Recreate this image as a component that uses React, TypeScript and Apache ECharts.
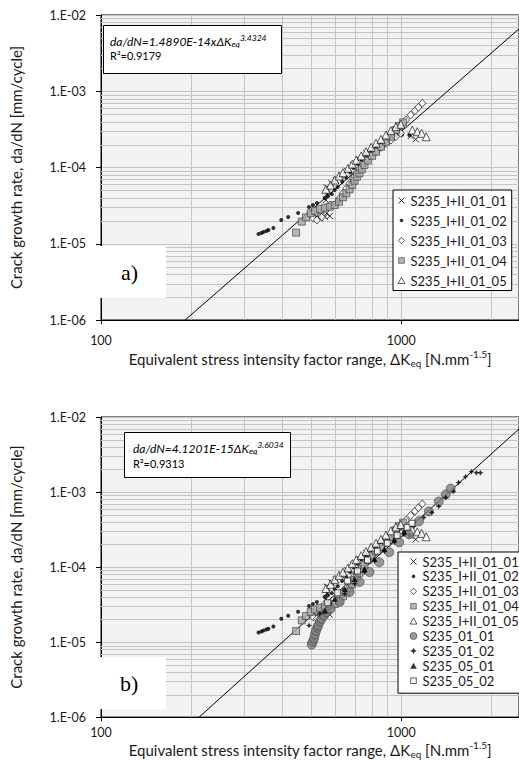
import React, { useEffect, useRef } from "react";
import * as echarts from "echarts";

const FONT = 'Lato, "Open Sans", "Noto Sans", sans-serif';
const GRID_COLOR = "#c4c4c4";
const TXT = "#1a1a1a";

const namesA = [
  "S235_I+II_01_01",
  "S235_I+II_01_02",
  "S235_I+II_01_03",
  "S235_I+II_01_04",
  "S235_I+II_01_05",
];
const namesB = [...namesA, "S235_01_01", "S235_01_02", "S235_05_01", "S235_05_02"];

const xTicks = [100, 1000];
const xTickLabels = ["100", "1000"];
const yTicks = [1e-6, 1e-5, 1e-4, 1e-3, 1e-2];
const yTickLabels = ["1.E-06", "1.E-05", "1.E-04", "1.E-03", "1.E-02"];
const X_MIN = 100;
const X_MAX = 2470;
const Y_MIN = 1e-6;
const Y_MAX = 1e-2;
const xMinor = [200, 300, 400, 500, 600, 700, 800, 900, 2000];
const minorMant = [2, 3, 4, 5, 6, 7, 8, 9];
const minorDecades = [1e-6, 1e-5, 1e-4, 1e-3];

// fitted laws (shown in the boxes)
const fitA = { C: 1.489e-14, m: 3.4324 };
const fitB = { C: 4.1201e-15, m: 3.6034 };
const fitX = [150, 2600];

// ---- data: S235_I+II specimens (both charts) ----
const d_I01: [number, number][] = [
  [523.0, 2.26e-5], [536.3, 2.16e-5], [543.3, 2.38e-5], [557.1, 2.26e-5], [564.5, 2.51e-5],
  [578.7, 2.31e-5], [561.4, 3.75e-5], [565.6, 4.49e-5], [564.5, 5.5e-5], [586.1, 6.21e-5],
  [605.5, 6.86e-5], [632.4, 7.74e-5], [659.9, 9.08e-5], [690.7, 1.08e-4], [726.8, 1.28e-4],
  [764.8, 1.54e-4], [804.3, 1.73e-4], [846.1, 1.97e-4], [890.2, 2.25e-4], [936.1, 2.53e-4],
  [984.9, 2.95e-4], [1076.4, 2.59e-4], [1118.3, 2.34e-4],
];
const d_I02: [number, number][] = [
  [334.8, 1.34e-5], [342.5, 1.38e-5], [347.8, 1.43e-5], [355.8, 1.47e-5], [361.3, 1.51e-5],
  [375.3, 1.61e-5], [398.7, 2.05e-5], [420.5, 2.24e-5], [453.7, 2.53e-5], [493.2, 3.03e-5],
  [508.4, 3.22e-5], [524.2, 3.42e-5], [557.1, 3.98e-5], [569.9, 4.23e-5], [587.5, 4.49e-5],
  [601.0, 5.07e-5], [614.9, 5.55e-5], [636.0, 6.5e-5], [657.0, 7.4e-5], [677.0, 8.6e-5],
  [694.4, 9.85e-5], [715.9, 1.11e-4], [738.0, 1.25e-4], [764.8, 1.43e-4], [794.3, 1.64e-4],
  [825.1, 1.87e-4], [857.0, 2.03e-4], [890.2, 2.18e-4], [924.7, 2.35e-4], [960.5, 2.55e-4],
  [1007.0, 2.69e-4], [1065.0, 2.67e-4],
];
const d_I03: [number, number][] = [
  [509.7, 2.16e-5], [524.2, 2.05e-5], [544.5, 2.24e-5], [578.7, 3.22e-5], [608.8, 3.39e-5],
  [624.3, 3.95e-5], [640.2, 4.59e-5], [657.0, 5.34e-5], [673.6, 6.21e-5], [690.7, 7.22e-5],
  [709.0, 8.39e-5], [726.8, 9.47e-5], [745.3, 1.08e-4], [764.8, 1.23e-4], [794.3, 1.42e-4],
  [825.1, 1.61e-4], [857.0, 1.84e-4], [890.2, 2.08e-4], [924.7, 2.29e-4], [960.5, 2.53e-4],
  [997.7, 2.81e-4], [984.9, 3.43e-4], [1015.3, 3.8e-4], [1038, 4.2e-4], [1076, 4.88e-4],
  [1112, 5.56e-4], [1141, 6.16e-4], [1176, 6.95e-4],
];
const d_I04: [number, number][] = [
  [446.8, 1.4e-5], [466.6, 1.95e-5], [482.1, 2.22e-5], [499.6, 2.51e-5], [516.3, 2.71e-5],
  [536.3, 2.85e-5], [557.1, 2.97e-5], [578.7, 3.06e-5], [601.0, 3.22e-5], [621.0, 3.56e-5],
  [640.2, 4.07e-5], [657.0, 4.59e-5], [673.6, 5.18e-5], [687.8, 5.89e-5], [699.7, 6.71e-5],
  [712.2, 7.57e-5], [726.8, 8.39e-5], [739.7, 9.47e-5], [755.0, 1.08e-4], [774.3, 1.23e-4],
  [800.6, 1.42e-4], [825.1, 1.61e-4], [857.0, 1.87e-4], [890.2, 2.18e-4], [924.7, 2.53e-4],
  [960.5, 3.1e-4], [984.9, 3.5e-4], [1015.3, 3.91e-4],
];
const d_I05: [number, number][] = [
  [561.4, 5.18e-5], [581.8, 5.89e-5], [601.0, 6.86e-5], [621.0, 7.74e-5], [640.2, 8.55e-5],
  [664.9, 9.76e-5], [687.8, 1.11e-4], [709.0, 1.25e-4], [736.3, 1.42e-4], [764.8, 1.61e-4],
  [794.3, 1.84e-4], [825.1, 2.08e-4], [857.0, 2.34e-4], [890.2, 2.67e-4], [924.7, 3.04e-4],
  [960.5, 3.43e-4], [997.7, 3.69e-4], [1089.7, 3.1e-4], [1131.9, 2.95e-4], [1170.4, 2.81e-4],
  [1212.1, 2.53e-4],
];

// ---- data: additional specimens (chart b) ----
const d_S0101: [number, number][] = [
  [503.5, 9.27e-6], [507.4, 1.01e-5], [512.4, 1.11e-5], [516.3, 1.26e-5], [520.3, 1.41e-5],
  [525.4, 1.56e-5], [529.4, 1.67e-5], [536.3, 1.88e-5], [543.3, 2.05e-5], [552.9, 2.27e-5],
  [564.3, 2.51e-5], [581.8, 2.78e-5], [624.3, 3.44e-5], [673.6, 4.67e-5], [726.8, 6.33e-5],
  [784.3, 8.59e-5], [846.1, 1.16e-4], [912.9, 1.58e-4], [984.9, 2.14e-4], [1062.6, 2.74e-4],
  [1146.5, 4.07e-4], [1237.3, 5.52e-4], [1335, 7.48e-4], [1407.7, 9.27e-4], [1462, 1.11e-3],
];
const d_S0102: [number, number][] = [
  [493.2, 1.66e-5], [536.3, 2.38e-5], [578.7, 3.24e-5], [648.5, 4.39e-5], [699.7, 5.96e-5],
  [755.0, 8.59e-5], [814.6, 1.2e-4], [878.9, 1.63e-4], [948.2, 2.14e-4], [1023.1, 2.74e-4],
  [1103.8, 3.49e-4], [1190.9, 4.59e-4], [1266, 5.35e-4], [1335, 6.43e-4], [1407.7, 8.46e-4],
  [1496, 1.02e-3], [1554, 1.34e-3], [1639, 1.6e-3], [1715, 1.87e-3], [1781, 1.81e-3],
  [1837, 1.81e-3],
];
const d_S0501: [number, number][] = [
  [557.1, 2.61e-5], [601.0, 3.77e-5], [648.5, 5.11e-5], [699.7, 6.93e-5], [755.0, 9.41e-5],
  [814.6, 1.28e-4], [878.9, 1.73e-4], [948.2, 2.35e-4], [1023.1, 3.0e-4],
];
const d_S0502: [number, number][] = [
  [569.9, 3.34e-5], [614.9, 4.53e-5], [663.4, 6.53e-5], [715.9, 8.86e-5], [772.5, 1.24e-4],
  [833.3, 1.63e-4], [899.2, 2.08e-4], [970, 2.65e-4], [1046.6, 3.39e-4], [1087.1, 3.83e-4],
];

const CROSS = "path://M0,0L10,10M10,0L0,10";
const STAR4 = "path://M5,0L6.6,3.4L10,5L6.6,6.6L5,10L3.4,6.6L0,5L3.4,3.4Z";

// legend icons inside an 8x8 box (leading moveTo's fix the box)
const BOX = "path://M0,0M8,8";
const icons: Record<string, string> = {
  "S235_I+II_01_01": BOX + "M1,1L7,7M7,1L1,7",
  "S235_I+II_01_02": BOX + "M2.2,4A1.8,1.8 0 1,0 5.8,4A1.8,1.8 0 1,0 2.2,4Z",
  "S235_I+II_01_03": BOX + "M4,0.8L7,4L4,7.2L1,4Z",
  "S235_I+II_01_04": BOX + "M1.2,1.2L6.8,1.2L6.8,6.8L1.2,6.8Z",
  "S235_I+II_01_05": BOX + "M4,0.8L7.4,7L0.6,7Z",
  "S235_01_01": BOX + "M0.5,4A3.5,3.5 0 1,0 7.5,4A3.5,3.5 0 1,0 0.5,4Z",
  "S235_01_02": BOX + "M4,0.8L5.1,2.9L7.2,4L5.1,5.1L4,7.2L2.9,5.1L0.8,4L2.9,2.9Z",
  "S235_05_01": BOX + "M4,1L7.2,7L0.8,7Z",
  "S235_05_02": BOX + "M1.2,1.2L6.8,1.2L6.8,6.8L1.2,6.8Z",
};

type Sty = { symbol: string; size: number | number[]; itemStyle: any };
const styles: Record<string, Sty> = {
  "S235_I+II_01_01": { symbol: CROSS, size: 6, itemStyle: { color: "rgba(0,0,0,0)", borderColor: "#000", borderWidth: 1 } },
  "S235_I+II_01_02": { symbol: "circle", size: 4, itemStyle: { color: "#000" } },
  "S235_I+II_01_03": { symbol: "diamond", size: [7, 8], itemStyle: { color: "#fff", borderColor: "#000", borderWidth: 0.8 } },
  "S235_I+II_01_04": { symbol: "rect", size: 7, itemStyle: { color: "#a6a6a6", borderColor: "#3a3a3a", borderWidth: 0.8 } },
  "S235_I+II_01_05": { symbol: "triangle", size: 8, itemStyle: { color: "#fff", borderColor: "#000", borderWidth: 0.8 } },
  "S235_01_01": { symbol: "circle", size: 9, itemStyle: { color: "#7f7f7f", borderColor: "#404040", borderWidth: 0.8 } },
  "S235_01_02": { symbol: STAR4, size: 6, itemStyle: { color: "#000" } },
  "S235_05_01": { symbol: "triangle", size: 6, itemStyle: { color: "#000" } },
  "S235_05_02": { symbol: "rect", size: 6, itemStyle: { color: "#fff", borderColor: "#000", borderWidth: 0.8 } },
};

const dataA: Record<string, [number, number][]> = {
  "S235_I+II_01_01": d_I01,
  "S235_I+II_01_02": d_I02,
  "S235_I+II_01_03": d_I03,
  "S235_I+II_01_04": d_I04,
  "S235_I+II_01_05": d_I05,
};
const dataB: Record<string, [number, number][]> = {
  ...dataA,
  "S235_01_01": d_S0101,
  "S235_01_02": d_S0102,
  "S235_05_01": d_S0501,
  "S235_05_02": d_S0502,
};

function scatter(name: string, data: [number, number][], gi: number) {
  const s = styles[name];
  return {
    type: "scatter",
    name,
    data,
    xAxisIndex: gi,
    yAxisIndex: gi,
    symbol: s.symbol,
    symbolSize: s.size,
    itemStyle: s.itemStyle,
    z: 4,
    silent: true,
  };
}

// minor grid lines drawn through the axes' own scales
function minorV(gi: number) {
  return {
    type: "custom",
    name: "minorV" + gi,
    xAxisIndex: gi,
    yAxisIndex: gi,
    z: 1,
    silent: true,
    clip: true,
    data: xMinor.map((v) => [v, Y_MIN]),
    renderItem: (_p: any, api: any) => {
      const a = api.coord([api.value(0), Y_MIN]);
      const b = api.coord([api.value(0), Y_MAX]);
      const x = Math.round(a[0]) + 0.5;
      return { type: "line", shape: { x1: x, y1: a[1], x2: x, y2: b[1] }, style: { stroke: GRID_COLOR, lineWidth: 1 } };
    },
  };
}
function minorH(gi: number) {
  const yMinor: number[] = [];
  minorDecades.forEach((d) => minorMant.forEach((m) => yMinor.push(m * d)));
  return {
    type: "custom",
    name: "minorH" + gi,
    xAxisIndex: gi,
    yAxisIndex: gi,
    z: 1,
    silent: true,
    clip: true,
    data: yMinor.map((v) => [X_MIN, v]),
    renderItem: (_p: any, api: any) => {
      const a = api.coord([X_MIN, api.value(1)]);
      const b = api.coord([X_MAX, api.value(1)]);
      const y = Math.round(a[1]) + 0.5;
      return { type: "line", shape: { x1: a[0], y1: y, x2: b[0], y2: y }, style: { stroke: GRID_COLOR, lineWidth: 1 } };
    },
  };
}

function fitLine(fit: { C: number; m: number }, gi: number) {
  return {
    type: "line",
    name: "fit" + gi,
    data: fitX.map((x) => [x, fit.C * Math.pow(x, fit.m)]),
    xAxisIndex: gi,
    yAxisIndex: gi,
    showSymbol: false,
    symbol: "none",
    lineStyle: { color: "#000", width: 1 },
    z: 3,
    silent: true,
    clip: true,
  };
}

const xName =
  "{n|Equivalent stress intensity factor range, ΔK}{s|eq}{n| [N.mm}{p|-1.5}{n|]}";
const axisRich = {
  n: { fontSize: 15, fontFamily: FONT, color: TXT, lineHeight: 19 },
  s: { fontSize: 10, fontFamily: FONT, color: TXT, lineHeight: 9, verticalAlign: "bottom" },
  p: { fontSize: 10, fontFamily: FONT, color: TXT, lineHeight: 9, verticalAlign: "top" },
};

function xAxis(gi: number) {
  return {
    type: "log",
    logBase: 10,
    gridIndex: gi,
    min: X_MIN,
    max: X_MAX,
    axisLine: { show: true, onZero: false, lineStyle: { color: "#000", width: 1 } },
    axisTick: { show: true, length: 4, lineStyle: { color: "#000" } },
    axisLabel: {
      fontSize: 12.5,
      fontFamily: FONT,
      color: TXT,
      margin: gi === 0 ? 14 : 9,
      showMaxLabel: false,
      formatter: (v: number) => {
        const i = xTicks.findIndex((t) => Math.abs(t - v) / t < 1e-6);
        return i >= 0 ? xTickLabels[i] : "";
      },
    },
    splitLine: { show: true, lineStyle: { color: GRID_COLOR, width: 1 } },
    name: xName,
    nameLocation: "middle",
    nameGap: gi === 0 ? 29 : 22,
    nameTextStyle: { rich: axisRich },
  };
}

function yAxis(gi: number) {
  return {
    type: "log",
    logBase: 10,
    gridIndex: gi,
    min: Y_MIN,
    max: Y_MAX,
    axisLine: { show: true, onZero: false, lineStyle: { color: "#000", width: 1 } },
    axisTick: { show: true, length: 5, lineStyle: { color: "#000" } },
    axisLabel: {
      fontSize: 12.5,
      fontFamily: FONT,
      color: TXT,
      margin: 15,
      formatter: (v: number) => {
        const i = yTicks.findIndex((t) => Math.abs(t - v) / t < 1e-6);
        return i >= 0 ? yTickLabels[i] : "";
      },
    },
    splitLine: { show: true, lineStyle: { color: GRID_COLOR, width: 1 } },
    name: "Crack growth rate, da/dN [mm/cycle]",
    nameLocation: "middle",
    nameGap: 78,
    nameTextStyle: { fontSize: 15, fontFamily: FONT, color: TXT },
  };
}

function legend(names: string[], left: number, top: number, gap: number, padding: number[]) {
  return {
    data: names.map((n) => ({ name: n, icon: icons[n], itemStyle: styles[n].itemStyle })),
    orient: "vertical",
    left,
    top,
    itemWidth: 8,
    itemHeight: 8,
    itemGap: gap,
    padding,
    backgroundColor: "#fff",
    borderColor: "#000",
    borderWidth: 1,
    borderRadius: 0,
    selectedMode: false,
    textStyle: { fontSize: 13, fontFamily: FONT, color: TXT },
  };
}

const eqRich = {
  a: { fontSize: 12, fontStyle: "italic", fontFamily: FONT, fill: "#000", lineHeight: 15 },
  b: { fontSize: 8.5, fontStyle: "italic", fontFamily: FONT, fill: "#000", lineHeight: 7, verticalAlign: "bottom" },
  c: { fontSize: 8.5, fontStyle: "italic", fontFamily: FONT, fill: "#000", lineHeight: 7, verticalAlign: "top" },
};

function eqBox(x: number, y: number, w: number, h: number, eq: string, r2: string, tx: number, ty1: number, ty2: number) {
  return [
    { type: "rect", z: 20, shape: { x, y, width: w, height: h }, style: { fill: "#fff", stroke: "#000", lineWidth: 1 } },
    { type: "text", z: 21, x: tx, y: ty1, style: { text: eq, rich: eqRich, verticalAlign: "middle", align: "left" } },
    { type: "text", z: 21, x: tx, y: ty2, style: { text: r2, fontSize: 11, fontFamily: FONT, fill: "#000", verticalAlign: "middle", align: "left" } },
  ];
}

function tagBox(x: number, y: number, w: number, h: number, t: string, tx: number, ty: number) {
  return [
    { type: "rect", z: 20, shape: { x, y, width: w, height: h }, style: { fill: "#fff" } },
    { type: "text", z: 21, x: tx, y: ty, style: { text: t, fontSize: 22, fontFamily: '"Liberation Serif", "DejaVu Serif", serif', fill: "#000", verticalAlign: "middle", align: "left" } },
  ];
}

export default function App() {
  const ref = useRef<HTMLDivElement>(null);
  useEffect(() => {
    if (!ref.current) return;
    const chart = echarts.init(ref.current, null, { renderer: "svg" });
    const series: any[] = [
      minorV(0),
      minorH(0),
      minorV(1),
      minorH(1),
      fitLine(fitA, 0),
      fitLine(fitB, 1),
      ...namesA.map((n) => scatter(n, dataA[n], 0)),
      ...namesB.map((n) => scatter(n, dataB[n], 1)),
    ];
    chart.setOption({
      animation: false,
      backgroundColor: "#fff",
      grid: [
        { left: 99, top: 15, width: 422, height: 305, show: true, backgroundColor: "#f2f2f2", borderColor: "#000", borderWidth: 1 },
        { left: 99, top: 417, width: 422, height: 302, show: true, backgroundColor: "#f2f2f2", borderColor: "#000", borderWidth: 1 },
      ],
      xAxis: [xAxis(0), xAxis(1)],
      yAxis: [yAxis(0), yAxis(1)],
      legend: [
        legend(namesA, 393, 190, 7, [4, 5, 3.5, 4]),
        legend(namesB, 398, 552, 1.9, [3, 20, 6, 11]),
      ],
      graphic: [
        ...eqBox(103.5, 25.5, 178, 48, "{a|da/dN=1.4890E-14xΔK}{b|eq}{c|3.4324}", "R²=0.9179", 110, 41, 55),
        ...eqBox(124.5, 432.5, 166, 45, "{a|da/dN=4.1201E-15ΔK}{b|eq}{c|3.6034}", "R²=0.9313", 133, 448, 463),
        ...tagBox(100, 246, 66, 52, "a)", 121, 272),
        ...tagBox(100, 657, 66, 52, "b)", 120, 683),
      ],
      series,
    });
    return () => chart.dispose();
  }, []);
  return <div ref={ref} style={{ position: "absolute", left: 0, top: 0, width: 519, height: 760 }} />;
}
